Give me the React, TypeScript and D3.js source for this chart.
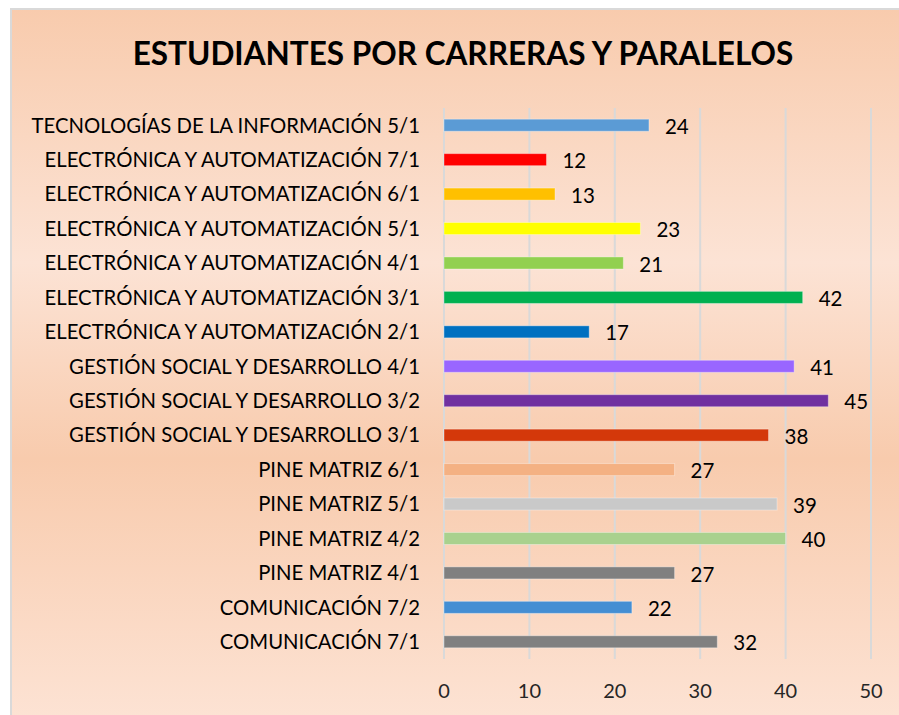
import * as d3 from "d3";

const categories = [
  "TECNOLOGÍAS DE LA INFORMACIÓN 5/1",
  "ELECTRÓNICA Y AUTOMATIZACIÓN 7/1",
  "ELECTRÓNICA Y AUTOMATIZACIÓN 6/1",
  "ELECTRÓNICA Y AUTOMATIZACIÓN 5/1",
  "ELECTRÓNICA Y AUTOMATIZACIÓN 4/1",
  "ELECTRÓNICA Y AUTOMATIZACIÓN 3/1",
  "ELECTRÓNICA Y AUTOMATIZACIÓN 2/1",
  "GESTIÓN SOCIAL Y DESARROLLO 4/1",
  "GESTIÓN SOCIAL Y DESARROLLO 3/2",
  "GESTIÓN SOCIAL Y DESARROLLO 3/1",
  "PINE MATRIZ 6/1",
  "PINE MATRIZ 5/1",
  "PINE MATRIZ 4/2",
  "PINE MATRIZ 4/1",
  "COMUNICACIÓN 7/2",
  "COMUNICACIÓN 7/1",
];

const values = [24, 12, 13, 23, 21, 42, 17, 41, 45, 38, 27, 39, 40, 27, 22, 32];

const barColors = [
  "#5b9bd5",
  "#ff0000",
  "#ffc000",
  "#ffff00",
  "#92d050",
  "#00b050",
  "#0070c0",
  "#9966ff",
  "#7030a0",
  "#d4380a",
  "#f4b183",
  "#c9c9c9",
  "#a9d18e",
  "#808080",
  "#448ed3",
  "#808080",
];

const xTicks = [0, 10, 20, 30, 40, 50];

const W = 899;
const H = 715;
const FONT = "Lato, 'Open Sans', sans-serif";

export default function App() {
  const x = d3.scaleLinear().domain([0, 50]).range([444, 871]);
  const y = d3
    .scaleBand<string>()
    .domain(categories)
    .range([108, 659])
    .paddingInner(0.65)
    .paddingOuter(0.325);

  const [y0, y1] = y.range();

  return (
    <svg
      width={W}
      height={H}
      style={{ position: "absolute", left: 0, top: 0, display: "block" }}
    >
      <defs>
        <linearGradient id="bg" x1="0" y1="0" x2="0" y2="1">
          <stop offset="0" stopColor="#f8cbad" />
          <stop offset="0.35" stopColor="#fce3d5" />
          <stop offset="0.62" stopColor="#f8cbad" />
          <stop offset="1" stopColor="#fde4d6" />
        </linearGradient>
      </defs>
      <rect x={0} y={0} width={W} height={H} fill="#ffffff" />
      <rect
        x={11}
        y={9}
        width={W + 10}
        height={H + 10}
        fill="url(#bg)"
        stroke="#d9d9d9"
        strokeWidth={2}
      />

      <text
        x={463}
        y={65}
        textAnchor="middle"
        fontFamily={FONT}
        fontWeight="bold"
        fontSize={31.5}
        fill="#000000"
      >
        ESTUDIANTES POR CARRERAS Y PARALELOS
      </text>

      {xTicks.map((t) => (
        <g key={t}>
          <line
            x1={x(t)}
            x2={x(t)}
            y1={y0}
            y2={y1}
            stroke="#d9d9d9"
            strokeWidth={2}
          />
          <text
            x={x(t)}
            y={698}
            textAnchor="middle"
            fontFamily={FONT}
            fontSize={20}
            fill="#262626"
          >
            {t}
          </text>
        </g>
      ))}

      {categories.map((c, i) => {
        const by = y(c)!;
        const cy = by + y.bandwidth() / 2;
        return (
          <g key={c}>
            <rect
              x={x(0)}
              y={by}
              width={x(values[i]) - x(0)}
              height={y.bandwidth()}
              fill={barColors[i]}
              stroke="#ffffff"
              strokeOpacity={0.35}
              strokeWidth={1}
            />
            <text
              x={420}
              y={cy}
              dy="0.36em"
              textAnchor="end"
              fontFamily={FONT}
              fontSize={20.3}
              fill="#000000"
            >
              {c}
            </text>
            <text
              x={x(values[i]) + 16}
              y={cy}
              dy="0.42em"
              textAnchor="start"
              fontFamily={FONT}
              fontSize={20.5}
              fill="#000000"
            >
              {values[i]}
            </text>
          </g>
        );
      })}
    </svg>
  );
}
